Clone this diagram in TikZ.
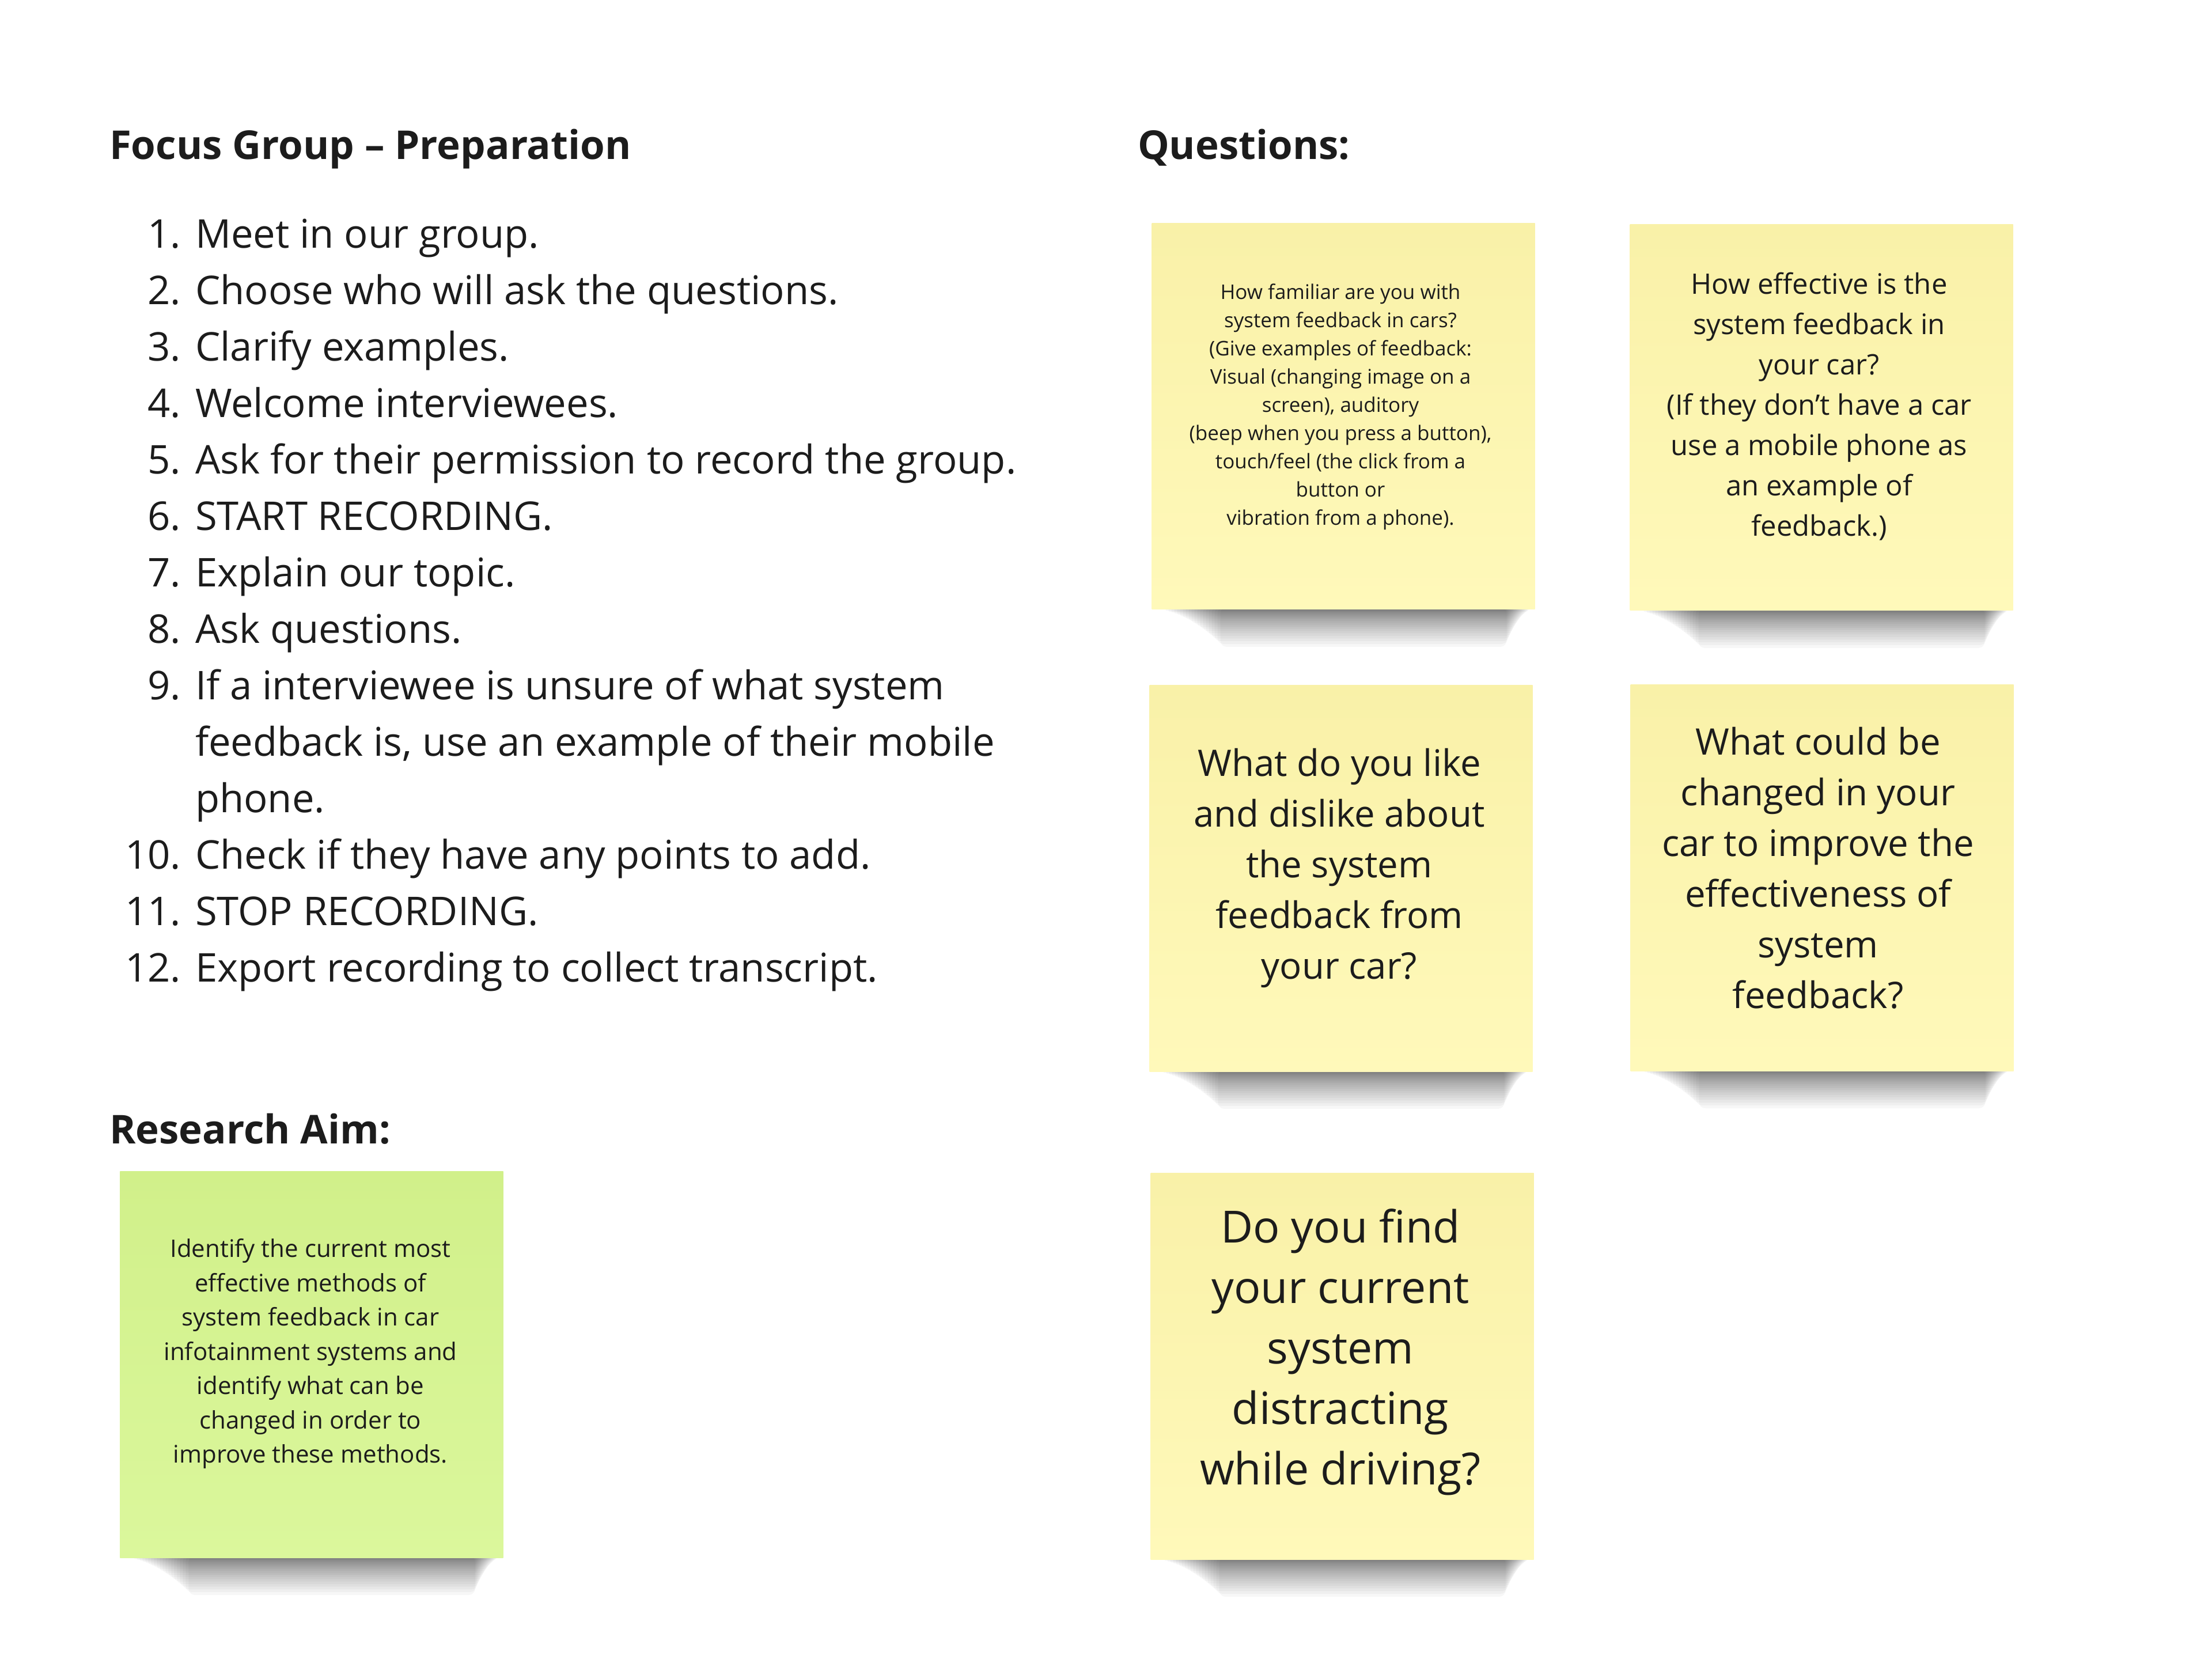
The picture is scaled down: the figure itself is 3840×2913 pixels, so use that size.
\documentclass[tikz,border=0pt]{standalone}
\usepackage{fontspec}
\setmainfont{Open Sans}
\usetikzlibrary{calc,backgrounds}
\pgfdeclarelayer{paper}
\pgfdeclarelayer{shadowlayer}
\pgfsetlayers{paper,shadowlayer,main}
\definecolor{ink}{HTML}{1C1C1C}
\definecolor{noteYa}{HTML}{F9F1A8}
\definecolor{noteYb}{HTML}{FFF9BA}
\definecolor{noteGa}{HTML}{D1F08A}
\definecolor{noteGb}{HTML}{DBF79C}
\begin{document}
\begin{tikzpicture}[x=0.2pt,y=-0.2pt,
  heading/.style={anchor=base west, inner sep=0pt, text=ink, font=\fontsize{13.8}{18.6}\selectfont\bfseries},
  item/.style={anchor=base west, inner sep=0pt, text=ink, font=\fontsize{13.75}{18.6}\selectfont},
  num/.style={anchor=base east, inner sep=0pt, text=ink, font=\fontsize{13.75}{18.6}\selectfont},
  note/.style={minimum width=133pt, minimum height=134pt, inner sep=0pt, top color=noteYa, bottom color=noteYb},
  greennote/.style={note, top color=noteGa, bottom color=noteGb},
  notetext/.style={align=center, inner sep=0pt, text=ink},
  shadowstep/.style={fill=black, opacity=0.033}
]
\begin{pgfonlayer}{paper}
\fill[white] (0,0) rectangle (3840,2913);
\end{pgfonlayer}
\useasboundingbox (0,0) rectangle (3840,2913);

% headings
\node[heading] (hfocus) at (189,277) {Focus Group – Preparation};
\node[heading] (hquest) at (1974,277) {Questions:};
\node[heading] (haim) at (189,1986) {Research Aim:};

% list
\node[num] (n1) at (315,431) {1.};   \node[item] (i1) at (338,431) {Meet in our group.};
\node[num] (n2) at (315,529) {2.};   \node[item] (i2) at (338,529) {Choose who will ask the questions.};
\node[num] (n3) at (315,627) {3.};   \node[item] (i3) at (338,627) {Clarify examples.};
\node[num] (n4) at (315,725) {4.};   \node[item] (i4) at (338,725) {Welcome interviewees.};
\node[num] (n5) at (315,823) {5.};   \node[item] (i5) at (338,823) {Ask for their permission to record the group.};
\node[num] (n6) at (315,921) {6.};   \node[item] (i6) at (338,921) {START RECORDING.};
\node[num] (n7) at (315,1019) {7.};  \node[item] (i7) at (338,1019) {Explain our topic.};
\node[num] (n8) at (315,1117) {8.};  \node[item] (i8) at (338,1117) {Ask questions.};
\node[num] (n9) at (315,1215) {9.};  \node[item] (i9a) at (338,1215) {If a interviewee is unsure of what system};
\node[item] (i9b) at (338,1313) {feedback is, use an example of their mobile};
\node[item] (i9c) at (338,1411) {phone.};
\node[num] (n10) at (315,1509) {10.}; \node[item] (i10) at (338,1509) {Check if they have any points to add.};
\node[num] (n11) at (315,1607) {11.}; \node[item] (i11) at (338,1607) {STOP RECORDING.};
\node[num] (n12) at (315,1705) {12.}; \node[item] (i12) at (338,1705) {Export recording to collect transcript.};

% sticky notes
\node[note] (q1) at (2332,723) {};
\node[note] (q2) at (3162,725) {};
\node[note] (q3) at (2328,1525) {};
\node[note] (q4) at (3163,1524) {};
\node[note] (q5) at (2330,2372) {};
\node[greennote] (ga) at (541,2369) {};

% soft shadows below the notes
\begin{pgfonlayer}{shadowlayer}
\foreach \n in {q1,q2,q3,q4,q5,ga}{
  \foreach \k in {1,...,20}{
    \fill[shadowstep, rounded corners={(0.2+0.1*\k)*1pt}]
      ($(\n.south west)+({20+5*\k},-5)$) rectangle ($(\n.south east)+({-10-2*\k},{1.2*\k+0.1*\k*\k})$);
  }
}
\end{pgfonlayer}

\node[notetext, font=\fontsize{7.0}{9.8}\selectfont] (t1) at (2327,706)
 {How familiar are you with\\system feedback in cars?\\(Give examples of feedback:\\Visual (changing image on a\\screen), auditory\\(beep when you press a button),\\touch/feel (the click from a\\button or\\vibration from a phone).};
\node[notetext, font=\fontsize{9.8}{14}\selectfont] (t2) at (3158,706)
 {How effective is the\\system feedback in\\your car?\\(If they don’t have a car\\use a mobile phone as\\an example of\\feedback.)};
\node[notetext, font=\fontsize{12.7}{17.6}\selectfont] (t3) at (2325,1507)
 {What do you like\\and dislike about\\the system\\feedback from\\your car?};
\node[notetext, font=\fontsize{12.7}{17.6}\selectfont] (t4) at (3156,1507)
 {What could be\\changed in your\\car to improve the\\effectiveness of\\system\\feedback?};
\node[notetext, font=\fontsize{15.4}{21}\selectfont] (t5) at (2327,2347)
 {Do you find\\your current\\system\\distracting\\while driving?};
\node[notetext, font=\fontsize{8.4}{11.9}\selectfont] (tg) at (539,2350)
 {Identify the current most\\effective methods of\\system feedback in car\\infotainment systems and\\identify what can be\\changed in order to\\improve these methods.};
\end{tikzpicture}
\end{document}
